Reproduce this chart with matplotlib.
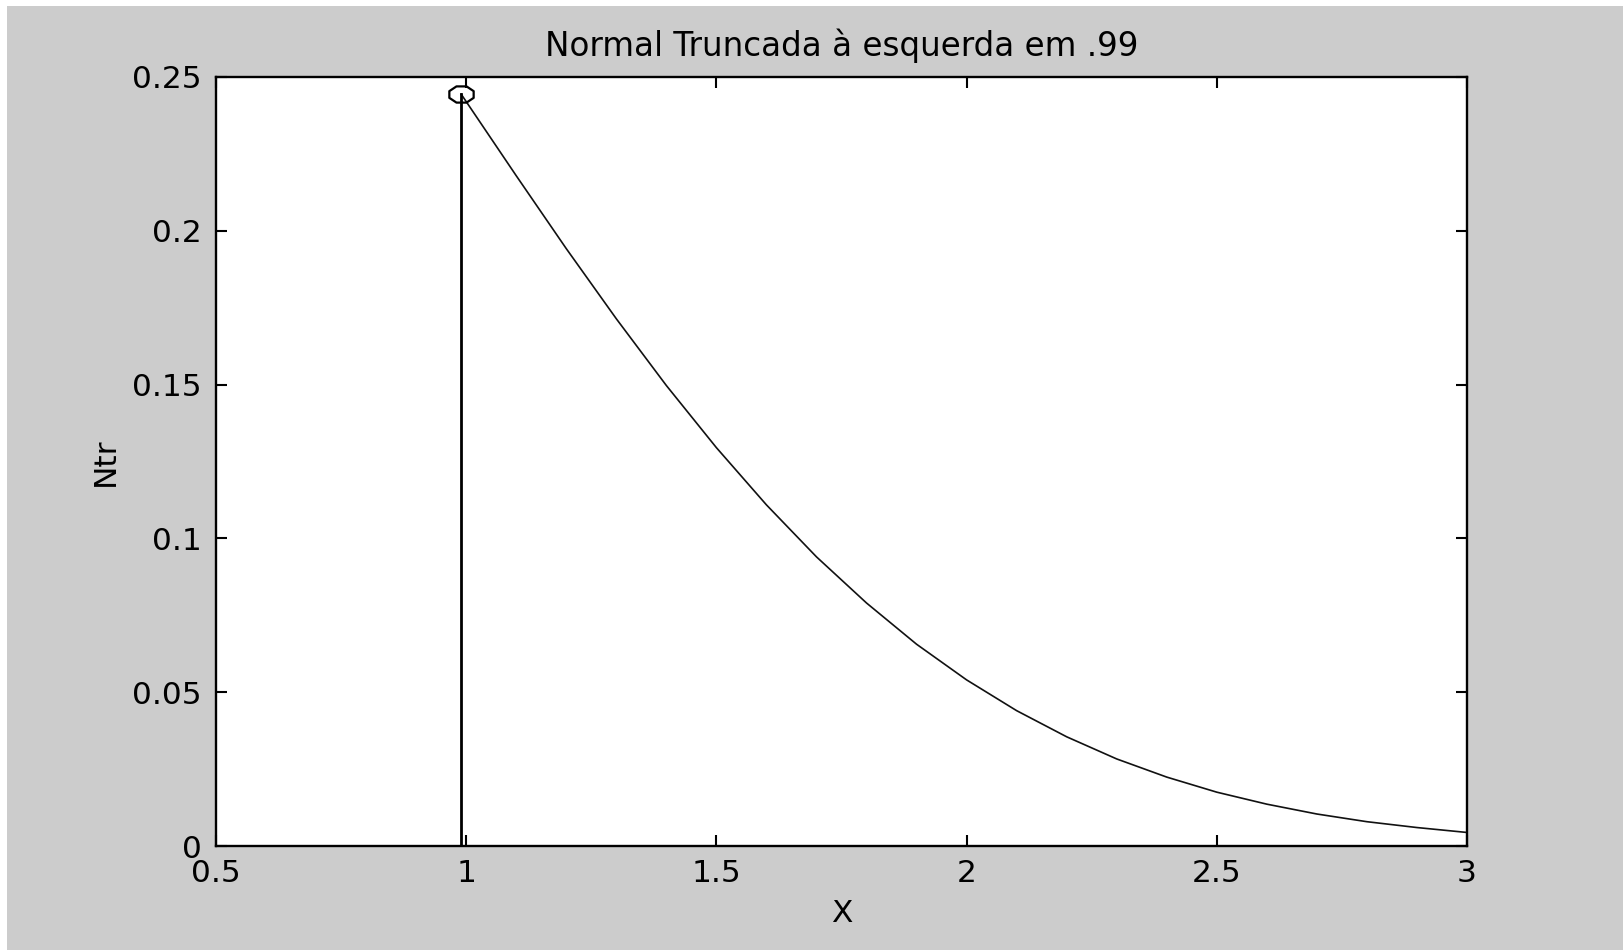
import matplotlib
matplotlib.use("Agg")
import matplotlib.pyplot as plt
import numpy as np
from matplotlib.patches import Rectangle
from matplotlib.path import Path

# data
x_vals = [0.99, 1.0, 1.1, 1.2, 1.3, 1.4, 1.5, 1.6, 1.7, 1.8, 1.9, 2.0,
          2.1, 2.2, 2.3, 2.4, 2.5, 2.6, 2.7, 2.8, 2.9, 3.0]
y_vals = [0.2444, 0.2420, 0.2179, 0.1942, 0.1714, 0.1497, 0.1295, 0.1109,
          0.0940, 0.0790, 0.0656, 0.0540, 0.0440, 0.0355, 0.0283, 0.0224,
          0.0175, 0.0136, 0.0104, 0.0079, 0.0060, 0.0044]
cut_x = 0.99
cut_y = 0.2444
x_ticks = [0.5, 1, 1.5, 2, 2.5, 3]
x_tick_labels = ["0.5", "1", "1.5", "2", "2.5", "3"]
y_ticks = [0, 0.05, 0.1, 0.15, 0.2, 0.25]
y_tick_labels = ["0", "0.05", "0.1", "0.15", "0.2", "0.25"]
title = "Normal Truncada à esquerda em .99"

plt.rcParams['font.family'] = ['DejaVu Sans']
W, H = 1623, 950
fig = plt.figure(figsize=(W / 100, H / 100), dpi=100, facecolor='white')
fig.patches.append(Rectangle((7 / W, 0), 1 - 7 / W, (H - 6) / H,
                             transform=fig.transFigure, facecolor='#cccccc',
                             edgecolor='none', zorder=-10))

left, right, top, bottom = 216, 1467, 77, 846
ax = fig.add_axes([left / W, 1 - bottom / H, (right - left) / W, (bottom - top) / H])
ax.set_facecolor('white')

# elliptical (wide) open marker as in the reference
t = np.linspace(0, 2 * np.pi, 9)
ell = Path(np.column_stack([1.5 * np.cos(t + np.pi / 8), np.sin(t + np.pi / 8)]), closed=True)

ax.plot(x_vals, y_vals, color='#111111', linewidth=1.2)
ax.plot([cut_x, cut_x], [0, cut_y], color='black', linewidth=2.0)
ax.plot([cut_x], [cut_y], marker=ell, markersize=17.5, markerfacecolor='none',
        markeredgecolor='black', markeredgewidth=1.6, linestyle='none')

ax.set_xlim(0.5, 3)
ax.set_ylim(0, 0.25)
ax.set_xticks(x_ticks)
ax.set_xticklabels(x_tick_labels)
ax.set_yticks(y_ticks)
ax.set_yticklabels(y_tick_labels)
ax.tick_params(direction='in', length=8, width=1.5, top=True, right=True,
               labelsize=22.5, colors='black')
ax.tick_params(axis='x', pad=9.5)
ax.tick_params(axis='y', pad=10)
for s in ax.spines.values():
    s.set_linewidth(1.7)
    s.set_color('black')

ax.set_title(title, fontsize=23.5, pad=15)
ax.set_xlabel("X", fontsize=22.5, labelpad=7.5)
ax.set_ylabel("Ntr", fontsize=22.5, labelpad=9)

fig.savefig("out.png", dpi=100, facecolor=fig.get_facecolor())
